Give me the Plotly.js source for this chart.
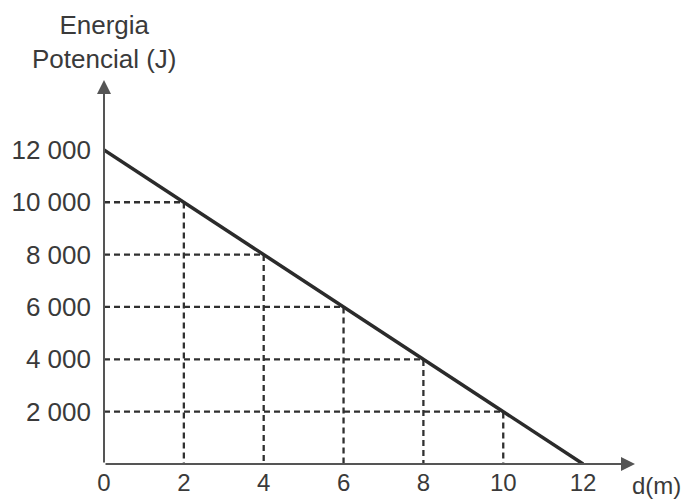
<!DOCTYPE html>
<html>
<head>
<meta charset="utf-8">
<script src="https://cdn.plot.ly/plotly-3.0.1.min.js"></script>
<style>
  html, body { margin: 0; padding: 0; background: #fff; }
  #chart { width: 697px; height: 500px; }
</style>
</head>
<body>
<div id="chart"></div>
<script>
// distance (m) and potential energy (J)
const distance = [0, 2, 4, 6, 8, 10, 12];
const energy = [12000, 10000, 8000, 6000, 4000, 2000, 0];

// marked points with dashed guides
const guideX = [2, 4, 6, 8, 10];
const guideY = [10000, 8000, 6000, 4000, 2000];

const xTicks = [0, 2, 4, 6, 8, 10, 12];
const xTickText = ['0', '2', '4', '6', '8', '10', '12'];
const yTicks = [2000, 4000, 6000, 8000, 10000, 12000];
const yTickText = ['2 000', '4 000', '6 000', '8 000', '10 000', '12 000'];

const xMax = 13.3;
const yMax = 14670;
const ink = '#2b2b2b';
const axisInk = '#555';

let traces = [];

guideX.forEach(function (gx, i) {
    traces.push({
        x: [0, gx, gx],
        y: [guideY[i], guideY[i], 0],
        type: 'scatter',
        mode: 'lines',
        line: { color: '#303030', width: 2.3, dash: '6px,4px' },
        hoverinfo: 'skip',
        showlegend: false
    });
});

traces.push({
    x: distance,
    y: energy,
    type: 'scatter',
    mode: 'lines',
    line: { color: ink, width: 3.5 },
    showlegend: false
});

let layout = {
    width: 697,
    height: 500,
    margin: { l: 104, r: 62, t: 80, b: 36 },
    paper_bgcolor: 'white',
    plot_bgcolor: 'white',
    font: { family: 'Liberation Sans, Arial, sans-serif', size: 26, color: '#3a3a3a' },
    showlegend: false,
    xaxis: {
        range: [0, xMax],
        tickvals: xTicks,
        ticktext: xTickText,
        tickfont: { size: 24 },
        ticks: '',
        ticklabelstandoff: 2,
        showgrid: false,
        zeroline: false,
        showline: false,
        fixedrange: true
    },
    yaxis: {
        range: [0, yMax],
        tickvals: yTicks,
        ticktext: yTickText,
        ticks: '',
        ticklabelstandoff: 12,
        showgrid: false,
        zeroline: false,
        showline: false,
        fixedrange: true
    },
    annotations: [
        // x axis arrow
        {
            x: xMax, y: 0, xref: 'x', yref: 'y',
            ax: 0, ay: 0, axref: 'x', ayref: 'y',
            text: '', showarrow: true,
            arrowhead: 2, arrowsize: 1.4, arrowwidth: 2, arrowcolor: axisInk
        },
        // y axis arrow
        {
            x: 0, y: yMax, xref: 'x', yref: 'y',
            ax: 0, ay: 0, axref: 'x', ayref: 'y',
            text: '', showarrow: true,
            arrowhead: 2, arrowsize: 1.4, arrowwidth: 2, arrowcolor: axisInk
        },
        {
            text: 'Energia<br>Potencial (J)',
            xref: 'paper', yref: 'paper',
            x: 0, y: 1.1, xanchor: 'center', yanchor: 'middle',
            showarrow: false
        },
        {
            text: 'd(m)',
            xref: 'paper', yref: 'paper',
            x: 1.04, y: -0.055, xanchor: 'center', yanchor: 'middle',
            font: { size: 24 },
            showarrow: false
        }
    ]
};

Plotly.newPlot('chart', traces, layout, { displayModeBar: false, staticPlot: true });
</script>
</body>
</html>
